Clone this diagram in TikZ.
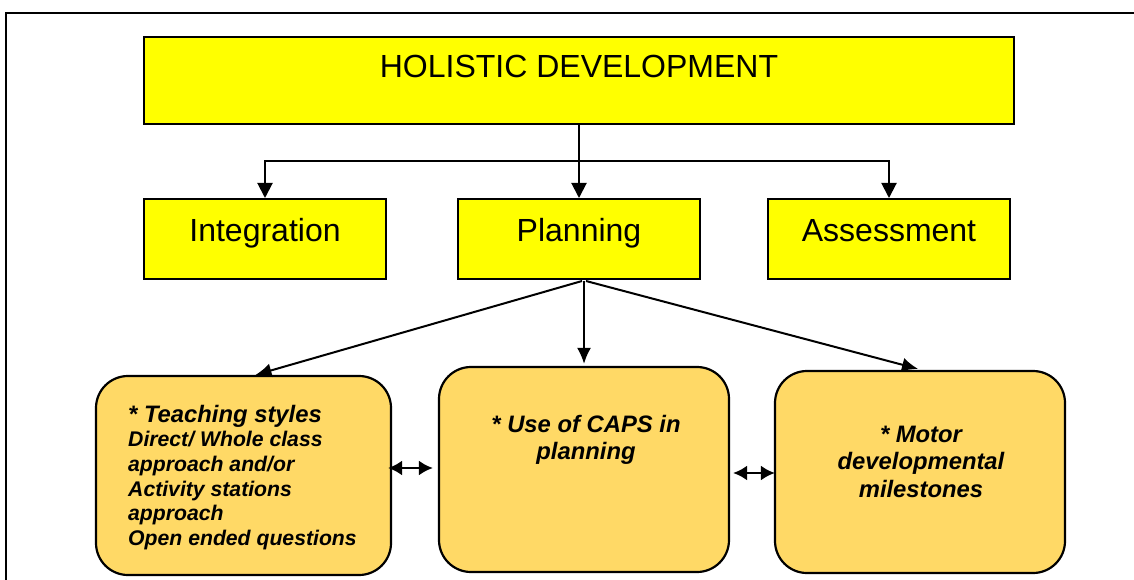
\documentclass[tikz,border=0pt]{standalone}
\usepackage{fontspec}
\setmainfont{Liberation Sans}
\usetikzlibrary{arrows.meta,calc}
\definecolor{yel}{HTML}{FFFF00}
\definecolor{gold}{HTML}{FFD966}
\begin{document}
\begin{tikzpicture}[x=1pt,y=-1pt,
  ybox/.style={draw=black,line width=2pt,fill=yel,inner sep=0pt},
  gbox/.style={draw=black,line width=2.2pt,fill=gold,rounded corners=32pt,inner sep=0pt},
  big/.style={font=\fontsize{32}{38}\selectfont,inner sep=0pt},
  btxt/.style={font=\fontsize{23.8}{27}\selectfont\bfseries\itshape,inner sep=0pt},
  conn/.style={line width=2pt,-{Triangle[length=15pt,width=15pt]}},
  lconn/.style={line width=2pt,-{Latex[length=16pt,width=14pt]}},
  dconn/.style={line width=2.4pt,{Latex[length=14pt,width=15pt]}-{Latex[length=14pt,width=15pt]}}]
\useasboundingbox (0,0) rectangle (1134,580);
\draw[line width=1.8pt] (6,580) -- (6,13) -- (1134,13);

\node[ybox,minimum width=870pt,minimum height=87pt] (hol) at (579,80.5) {};
\node[big,anchor=base] (holt) at (579,78) {HOLISTIC DEVELOPMENT};

\node[ybox,minimum width=242pt,minimum height=80pt] (integ) at (265,239) {};
\node[ybox,minimum width=242pt,minimum height=80pt] (plan) at (579,239) {};
\node[ybox,minimum width=242pt,minimum height=80pt] (assess) at (889,239) {};
\node[big,anchor=base] (integt) at (265,241) {Integration};
\node[big,anchor=base] (plant) at (579,241) {Planning};
\node[big,anchor=base] (assesst) at (889,241) {Assessment};

\coordinate (j) at (579,161);
\draw[conn] (hol.south) -- (plan.north);
\draw[conn] (j) -| (integ.north);
\draw[conn] (j) -| (assess.north);

\node[gbox,minimum width=295pt,minimum height=199pt] (b1) at (243.5,475.5) {};
\node[gbox,minimum width=290pt,minimum height=205pt] (b2) at (584,469.5) {};
\node[gbox,minimum width=290pt,minimum height=202pt] (b3) at (920,472) {};

\node[btxt,font=\fontsize{21.2}{24.7}\selectfont\bfseries\itshape,anchor=base west,align=left] (b1t) at (128,545.5)
 {{\fontsize{23.8}{25}\selectfont * Teaching styles}\\Direct/ Whole class\\approach and/or\\Activity stations\\approach\\Open ended questions};
\node[btxt,font=\fontsize{23.8}{26.5}\selectfont\bfseries\itshape,anchor=base,align=center] (b2t) at (586,459)
 {* Use of CAPS in\\planning};
\node[btxt,font=\fontsize{23.8}{27.5}\selectfont\bfseries\itshape,anchor=base,align=center] (b3t) at (921,497)
 {* Motor\\developmental\\milestones};

\draw[lconn] ($(plan.south)+(3,1)$) -- ($(b1.north)+(12,0)$);
\draw[lconn] ($(plan.south)+(5,1)$) -- ($(b2.north)+(0,-2)$);
\draw[lconn] ($(plan.south)+(7,1)$) -- ($(b3.north)+(-2,-1)$);

\draw[dconn] ($(b1.east)+(-4,-7.5)$) -- ($(b2.west)+(-5,-1.5)$);
\draw[dconn] ($(b2.east)+(3,3.5)$) -- ($(b3.west)+(1,1)$);
\end{tikzpicture}
\end{document}
